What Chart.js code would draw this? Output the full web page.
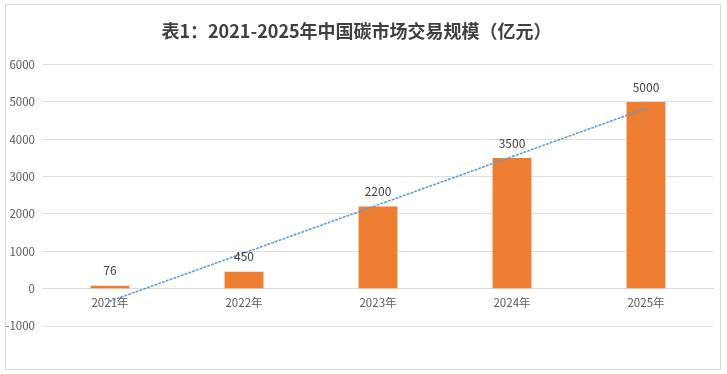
<!DOCTYPE html>
<html><head><meta charset="utf-8">
<script src="https://cdn.jsdelivr.net/npm/chart.js@4"></script>
<style>
html,body{margin:0;padding:0;background:#fff;}
#wrap{position:relative;width:727px;height:374px;}
#frame{position:absolute;left:5px;top:4px;width:716px;height:366px;border:1px solid #d9d9d9;box-sizing:border-box;pointer-events:none;}
canvas{display:block;}
</style></head><body>
<div id="wrap"><canvas id="c" width="727" height="374"></canvas><div id="frame"></div></div>
<script>
const titleText = '表1：2021-2025年中国碳市场交易规模（亿元）';
const categories = ['2021年','2022年','2023年','2024年','2025年'];
const values = [76, 450, 2200, 3500, 5000];
const trendValues = [-335, 955, 2245, 3535, 4825];
const yTicks = [-1000, 0, 1000, 2000, 3000, 4000, 5000, 6000];

const FONT = "'Noto Sans CJK SC','Noto Sans',sans-serif";

const labelPlugin = {
  id: 'barLabels',
  afterDatasetsDraw(chart) {
    const ctx = chart.ctx;
    const meta = chart.getDatasetMeta(0);
    ctx.save();
    ctx.fillStyle = '#404040';
    ctx.font = '12px ' + FONT;
    ctx.textAlign = 'center';
    ctx.textBaseline = 'middle';
    meta.data.forEach((bar, i) => {
      ctx.fillText(String(values[i]), bar.x, bar.y - 15);
    });
    ctx.restore();
  }
};

new Chart(document.getElementById('c'), {
  data: {
    labels: categories,
    datasets: [
      { type: 'bar', data: values, backgroundColor: '#ED7D31', barPercentage: 0.58, categoryPercentage: 0.5, order: 2 },
      { type: 'line', data: trendValues, borderColor: '#5B9BD5', borderWidth: 1.6, borderDash: [1.5, 2.5], borderCapStyle: 'round', pointRadius: 0, fill: false, order: 1 }
    ]
  },
  options: {
    responsive: false,
    animation: false,
    layout: { padding: { left: 0, right: 14, top: 0, bottom: 48 } },
    plugins: {
      legend: { display: false },
      tooltip: { enabled: false },
      title: {
        display: true, text: titleText, color: '#404040',
        font: { family: FONT, size: 18, weight: 'bold' },
        padding: { top: 20, bottom: 23 }
      }
    },
    scales: {
      x: {
        position: { y: 0 },
        grid: { display: false, drawTicks: false },
        border: { display: true, color: '#d9d9d9' },
        ticks: { color: '#595959', font: { family: FONT, size: 11.5 }, padding: 7 }
      },
      y: {
        min: -1000, max: 6000,
        afterBuildTicks: s => { s.ticks = yTicks.map(v => ({ value: v })); },
        afterFit: s => { s.width = 43; },
        grid: { color: '#e0e0e0', drawTicks: false },
        border: { display: false },
        ticks: { color: '#595959', font: { family: FONT, size: 11.5 }, padding: 8, callback: v => String(v) }
      }
    }
  },
  plugins: [labelPlugin]
});
</script>
</body></html>
